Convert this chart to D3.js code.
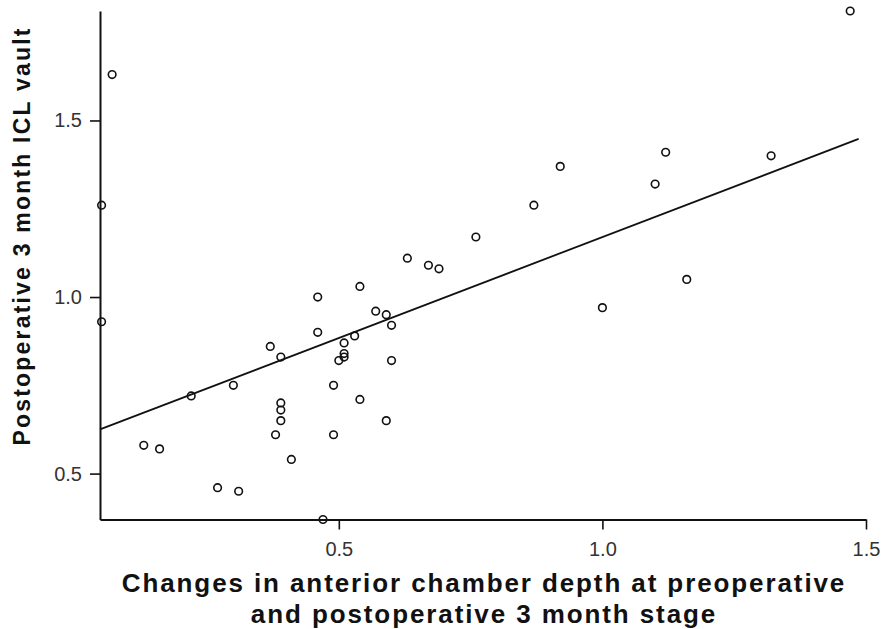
<!DOCTYPE html>
<html>
<head>
<meta charset="utf-8">
<script src="https://cdn.jsdelivr.net/npm/d3@7"></script>
<style>
    body { margin: 0; background: #fff; }
    svg { display: block; font-family: Arial, "Liberation Sans", sans-serif; }
</style>
</head>
<body>
<div id="chart"></div>
<script>
// change in ACD (x) vs 3 month vault (y)
const acdChange = [0.05, 0.05, 0.07, 0.13, 0.16, 0.22, 0.27, 0.30, 0.31, 0.37,
    0.38, 0.39, 0.39, 0.39, 0.39, 0.41, 0.46, 0.46, 0.47, 0.49,
    0.49, 0.50, 0.51, 0.51, 0.51, 0.53, 0.54, 0.54, 0.57, 0.59,
    0.59, 0.60, 0.60, 0.63, 0.67, 0.69, 0.76, 0.87, 0.92, 1.00,
    1.10, 1.12, 1.16, 1.32, 1.47];
const vault = [1.26, 0.93, 1.63, 0.58, 0.57, 0.72, 0.46, 0.75, 0.45, 0.86,
    0.61, 0.83, 0.70, 0.68, 0.65, 0.54, 1.00, 0.90, 0.37, 0.75,
    0.61, 0.82, 0.87, 0.84, 0.83, 0.89, 1.03, 0.71, 0.96, 0.95,
    0.65, 0.92, 0.82, 1.11, 1.09, 1.08, 1.17, 1.26, 1.37, 0.97,
    1.32, 1.41, 1.05, 1.40, 1.81];

const xTicks = [0.5, 1.0, 1.5];
const yTicks = [0.5, 1.0, 1.5];
const xDomain = [0.047, 1.5];
const yDomain = [0.37, 1.81];
const fitRange = [0.047, 1.486];

const xTitle = ['Changes in anterior chamber depth at preoperative', 'and postoperative 3 month stage'];
const yTitle = 'Postoperative 3 month ICL vault';

const points = acdChange.map((d, i) => ({ x: d, y: vault[i] }));

const width = 882, height = 629;
const margin = { top: 11, right: 16, bottom: 109.5, left: 100 };
const innerW = width - margin.left - margin.right;
const innerH = height - margin.top - margin.bottom;

const svg = d3.select('#chart')
    .append('svg')
    .attr('width', width)
    .attr('height', height);

const g = svg.append('g')
    .attr('transform', `translate(${margin.left},${margin.top})`);

const x = d3.scaleLinear().domain(xDomain).range([0, innerW]);
const y = d3.scaleLinear().domain(yDomain).range([innerH, 0]);

// least squares fit
const mx = d3.mean(points, d => d.x);
const my = d3.mean(points, d => d.y);
const slope = d3.sum(points, d => (d.x - mx) * (d.y - my)) / d3.sum(points, d => (d.x - mx) ** 2);
const intercept = my - slope * mx;

const xAxis = g.append('g')
    .attr('transform', `translate(0,${innerH})`)
    .call(d3.axisBottom(x).tickValues(xTicks).tickFormat(d3.format('.1f'))
        .tickSize(10).tickSizeOuter(0).tickPadding(12));

const yAxis = g.append('g')
    .call(d3.axisLeft(y).tickValues(yTicks).tickFormat(d3.format('.1f'))
        .tickSize(10).tickSizeOuter(0).tickPadding(8));

[xAxis, yAxis].forEach(ax => {
    ax.select('.domain').attr('stroke', '#111').attr('stroke-width', 2);
    ax.selectAll('.tick line').attr('stroke', '#111').attr('stroke-width', 1.6);
    ax.selectAll('.tick text')
        .style('font-family', 'Arial, "Liberation Sans", sans-serif')
        .style('font-size', '20px')
        .style('fill', '#333');
});

g.append('line')
    .attr('x1', x(fitRange[0]))
    .attr('y1', y(intercept + slope * fitRange[0]))
    .attr('x2', x(fitRange[1]))
    .attr('y2', y(intercept + slope * fitRange[1]))
    .attr('stroke', '#111')
    .attr('stroke-width', 1.8);

g.selectAll('.dot')
    .data(points)
    .enter()
    .append('circle')
    .attr('class', 'dot')
    .attr('cx', d => x(d.x))
    .attr('cy', d => y(d.y))
    .attr('r', 3.8)
    .attr('fill', 'none')
    .attr('stroke', '#111')
    .attr('stroke-width', 1.6);

svg.append('text')
    .attr('transform', 'translate(30,236) rotate(-90)')
    .attr('text-anchor', 'middle')
    .style('font-size', '23px')
    .style('font-weight', 'bold')
    .style('letter-spacing', '2.2px')
    .style('fill', '#111')
    .text(yTitle);

svg.selectAll('.xtitle')
    .data(xTitle)
    .enter()
    .append('text')
    .attr('class', 'xtitle')
    .attr('x', 484)
    .attr('y', (d, i) => 592 + i * 31)
    .attr('text-anchor', 'middle')
    .style('font-size', '26px')
    .style('font-weight', 'bold')
    .style('letter-spacing', '1.9px')
    .style('fill', '#111')
    .text(d => d);
</script>
</body>
</html>
